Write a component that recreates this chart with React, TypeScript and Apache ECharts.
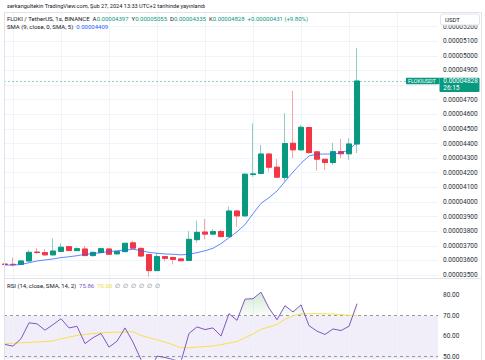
import { useEffect, useRef } from 'react';
import * as echarts from 'echarts';

// Prices are stored in units of 0.00000001 USDT (1e-8)
const PRICE_UNIT = 1e-8;

const opens = [3575, 3573, 3573, 3596, 3657, 3653, 3638, 3662, 3694, 3667, 3678, 3633, 3654, 3678, 3645, 3660, 3720, 3682, 3640, 3530, 3626, 3620, 3610, 3600, 3742, 3794, 3780, 3798, 3763, 3938, 3905, 4188, 4195, 4328, 4238, 4168, 4402, 4357, 4510, 4343, 4292, 4270, 4345, 4330, 4397];
const closes = [3572, 3571, 3596, 3655, 3654, 3638, 3664, 3690, 3668, 3680, 3633, 3655, 3680, 3642, 3660, 3717, 3684, 3630, 3530, 3626, 3614, 3607, 3598, 3744, 3792, 3780, 3797, 3763, 3938, 3905, 4190, 4192, 4328, 4238, 4170, 4400, 4357, 4511, 4338, 4293, 4270, 4344, 4330, 4397, 4828];
const lows = [3557, 3557, 3570, 3594, 3645, 3635, 3632, 3658, 3664, 3664, 3628, 3625, 3648, 3640, 3638, 3656, 3680, 3625, 3488, 3528, 3592, 3573, 3595, 3598, 3720, 3745, 3775, 3758, 3758, 3830, 3900, 4172, 4190, 4208, 4165, 4140, 4300, 4350, 4330, 4214, 4220, 4253, 4300, 4288, 4335];
const highs = [3625, 3620, 3600, 3670, 3683, 3678, 3751, 3717, 3700, 3690, 3699, 3660, 3685, 3684, 3664, 3720, 3735, 3690, 3645, 3650, 3630, 3625, 3616, 3801, 3872, 3883, 3815, 3810, 3968, 3945, 4195, 4538, 4390, 4335, 4294, 4607, 4760, 4527, 4515, 4350, 4295, 4405, 4431, 4437, 5055];
const smaValues = [3568, 3568, 3572, 3584, 3596, 3603, 3610, 3619, 3625, 3632, 3642, 3646, 3653, 3660, 3666, 3671, 3676, 3668, 3655, 3649, 3644, 3642, 3638, 3642, 3653, 3666, 3683, 3715, 3755, 3796, 3845, 3920, 3990, 4030, 4075, 4140, 4205, 4265, 4315, 4327, 4328, 4328, 4336, 4356, 4409];
const rsiValues = [55.9, 55.1, 58.7, 66.5, 66.0, 62.9, 65.6, 68.5, 64.0, 64.8, 56.3, 59.2, 61.3, 54.6, 57.5, 64.0, 57.0, 48.5, 42.0, 50.2, 49.5, 48.5, 47.5, 61.3, 64.5, 63.2, 64.0, 60.0, 71.0, 67.7, 78.1, 78.3, 81.5, 73.7, 68.0, 74.9, 71.8, 75.3, 65.1, 62.4, 60.8, 63.5, 62.7, 64.8, 75.86];
const rsiMaValues = [56.3, 56.5, 56.7, 56.9, 57.1, 57.3, 57.6, 58.7, 59.5, 60.3, 60.8, 61.2, 61.6, 61.8, 61.9, 62.0, 62.1, 60.3, 59.2, 58.2, 57.0, 55.8, 54.3, 54.3, 54.6, 54.9, 55.1, 55.8, 56.6, 57.3, 59.2, 61.0, 63.3, 64.5, 65.7, 68.2, 70.0, 70.8, 70.9, 71.0, 70.9, 70.8, 70.5, 70.2, 70.0];
// candle slots that carry a vertical grid line
const gridSlots = [1, 7, 13, 19, 25, 31, 37, 43, 49];
const rsiBands = [70, 50];

const UP = '#089981';
const DOWN = '#F23645';
const UP_WICK = '#8ccfc2';
const DOWN_WICK = '#f5a3aa';
const FONT = 'Roboto, "Noto Sans", sans-serif';
const TEXT = '#131722';
const BORDER = '#e0e3eb';

const fmt = (v: number) => (v * PRICE_UNIT).toFixed(8);

export default function App() {
  const ref = useRef<HTMLDivElement>(null);
  useEffect(() => {
    const el = ref.current!;
    const chart = echarts.init(el, null, { renderer: 'svg' });
    const n = opens.length;
    const idx = opens.map((_, i) => i);
    const candleData = idx.map((i) => [i, opens[i], closes[i], lows[i], highs[i]]);
    const bodyData = idx.map((i) => [i, opens[i], closes[i], Math.min(opens[i], closes[i]), Math.max(opens[i], closes[i])]);
    const smaData = idx.map((i) => [i, smaValues[i]]);
    const rsiData = idx.map((i) => [i, rsiValues[i]]);
    const rsiMaData = idx.map((i) => [i, rsiMaValues[i]]);
    const vLines = gridSlots.map((v) => ({ xAxis: v }));
    const last = n - 1;
    const rsiMin = 48.64;

    const labelStyle = { fontSize: 6.5, color: '#2a2e39', fontFamily: FONT, margin: 5 };

    chart.setOption({
      animation: false,
      backgroundColor: '#ffffff',
      grid: [
        { left: 4, top: 12.5, width: 434, height: 265.5 },
        { left: 4, top: 278, width: 434, height: 82 },
      ],
      xAxis: [
        { type: 'value', gridIndex: 0, min: -0.125, max: 54.125, show: false },
        { type: 'value', gridIndex: 1, min: -0.125, max: 54.125, show: false },
      ],
      yAxis: [
        {
          type: 'value', gridIndex: 0, position: 'right', min: 3479.5, max: 5297,
          minInterval: 100, maxInterval: 100,
          axisLine: { show: false }, axisTick: { show: false },
          splitLine: { lineStyle: { color: '#f0f3fa', width: 1 } },
          axisLabel: {
            ...labelStyle,
            formatter: (v: number) => (Math.abs(v - closes[last]) < 60 ? '' : fmt(v)),
            showMinLabel: false, showMaxLabel: false,
          },
        },
        {
          type: 'value', gridIndex: 1, position: 'right', min: rsiMin, max: 88.45,
          minInterval: 10, maxInterval: 10,
          axisLine: { show: false }, axisTick: { show: false },
          splitLine: { show: false },
          axisLabel: { ...labelStyle, formatter: (v: number) => v.toFixed(2), showMinLabel: false, showMaxLabel: false },
        },
      ],
      series: [
        {
          type: 'candlestick', xAxisIndex: 0, yAxisIndex: 0, data: candleData, barWidth: 5.6, silent: true,
          itemStyle: { color: UP_WICK, color0: DOWN_WICK, borderColor: UP_WICK, borderColor0: DOWN_WICK, borderWidth: 1 },
          markLine: {
            silent: true, symbol: ['none', 'none'], z: 1, label: { show: false },
            lineStyle: { color: '#f0f3fa', width: 1, type: 'solid' },
            data: vLines,
          },
        },
        {
          type: 'candlestick', xAxisIndex: 0, yAxisIndex: 0, data: bodyData, barWidth: 5.6, silent: true,
          itemStyle: { color: UP, color0: DOWN, borderColor: UP, borderColor0: DOWN, borderWidth: 1 },
          markLine: {
            silent: true, symbol: ['none', 'none'], label: { show: false },
            lineStyle: { color: 'rgba(8,153,129,0.45)', width: 1, type: [2, 2] },
            data: [{ yAxis: closes[last] }],
          },
        },
        {
          type: 'line', xAxisIndex: 0, yAxisIndex: 0, data: smaData, showSymbol: false, silent: true, z: 3,
          lineStyle: { color: '#2962FF', width: 1, opacity: 0.75 },
        },
        {
          type: 'line', xAxisIndex: 1, yAxisIndex: 1, data: rsiMaData, showSymbol: false, silent: true, z: 3,
          lineStyle: { color: '#F7E04F', width: 1 },
          markArea: {
            silent: true,
            itemStyle: { color: 'rgba(126,87,194,0.1)' },
            data: [[{ yAxis: rsiMin }, { yAxis: 70 }]],
          },
          markLine: {
            silent: true, symbol: ['none', 'none'], z: 1, label: { show: false },
            data: [
              ...gridSlots.map((v) => ({ xAxis: v, lineStyle: { color: '#f0f3fa', width: 1, type: 'solid' } })),
              ...rsiBands.map((v) => ({ yAxis: v, lineStyle: { color: '#9598a1', width: 1, type: [3, 3] } })),
            ],
          },
        },
        {
          type: 'line', xAxisIndex: 1, yAxisIndex: 1, data: rsiData, showSymbol: false, silent: true, z: 4,
          lineStyle: { color: '#7E57C2', width: 1 },
          areaStyle: { origin: 70, color: 'rgba(0,0,0,0)' },
        },
      ],
    });

    const py = (chart.convertToPixel({ gridIndex: 0 }, [0, closes[last]]) as number[])[1];
    const y82 = (chart.convertToPixel({ gridIndex: 1 }, [0, 82]) as number[])[1];
    const y70 = (chart.convertToPixel({ gridIndex: 1 }, [0, 70]) as number[])[1];

    const chg = closes[last] - opens[last];
    const pct = ((chg / opens[last]) * 100).toFixed(2);
    const small = `6px ${FONT}`;

    chart.setOption({
      series: [{}, {}, {}, {}, {
        areaStyle: {
          origin: 70,
          color: {
            type: 'linear', x: 0, y: y82, x2: 0, y2: y70, global: true,
            colorStops: [
              { offset: 0, color: 'rgba(76,175,80,0.38)' },
              { offset: 0.97, color: 'rgba(76,175,80,0.06)' },
              { offset: 1, color: 'rgba(76,175,80,0)' },
            ],
          },
        },
      }],
      graphic: [
        { type: 'line', z: 100, silent: true, shape: { x1: 4.5, y1: 12.5, x2: 481.5, y2: 12.5 }, style: { stroke: BORDER, lineWidth: 1 } },
        { type: 'line', z: 100, silent: true, shape: { x1: 4.5, y1: 12.5, x2: 4.5, y2: 360 }, style: { stroke: BORDER, lineWidth: 1 } },
        { type: 'line', z: 100, silent: true, shape: { x1: 481.5, y1: 12.5, x2: 481.5, y2: 360 }, style: { stroke: BORDER, lineWidth: 1 } },
        { type: 'line', z: 100, silent: true, shape: { x1: 4.5, y1: 278.5, x2: 481.5, y2: 278.5 }, style: { stroke: BORDER, lineWidth: 1 } },
        {
          type: 'text', z: 100, silent: true, x: 7, y: 6,
          style: { text: 'serkangultekin TradingView.com, Şub 27, 2024 13:33 UTC+2 tarihinde yayınlandı', font: `5.6px ${FONT}`, fill: TEXT, verticalAlign: 'middle' },
        },
        {
          type: 'text', z: 100, silent: true, x: 7, y: 18.5,
          style: {
            text: `FLOKI / TetherUS, 1s, BINANCE  A{g|${fmt(opens[last])}}  Y{g|${fmt(highs[last])}}  D{g|${fmt(lows[last])}}  K{g|${fmt(closes[last])}}  {g|+${fmt(chg)} (+${pct}%)}`,
            font: small, fill: TEXT, verticalAlign: 'middle',
            rich: { g: { fill: UP, font: small } },
          },
        },
        {
          type: 'text', z: 100, silent: true, x: 7, y: 26.5,
          style: {
            text: `SMA (9, close, 0, SMA, 5)  {b|${fmt(smaValues[last])}}`,
            font: small, fill: TEXT, verticalAlign: 'middle',
            rich: { b: { fill: '#2962FF', font: small } },
          },
        },
        {
          type: 'text', z: 100, silent: true, x: 7, y: 285.7,
          style: {
            text: `RSI (14, close, SMA, 14, 2)  {p|${rsiValues[last].toFixed(2)}}  {y|${rsiMaValues[last].toFixed(2)}}  {n|∅  ∅  ∅  ∅  ∅  ∅}`,
            font: small, fill: TEXT, verticalAlign: 'middle',
            rich: { p: { fill: '#7E57C2', font: small }, y: { fill: '#F2D93B', font: small }, n: { fill: '#787b86', font: small } },
          },
        },
        { type: 'rect', z: 100, silent: true, shape: { x: 440.5, y: 14, width: 39, height: 11, r: 2 }, style: { fill: '#fff', stroke: BORDER, lineWidth: 1 } },
        { type: 'text', z: 101, silent: true, x: 445, y: 19.5, style: { text: 'USDT', font: small, fill: TEXT, verticalAlign: 'middle' } },
        { type: 'rect', z: 100, silent: true, shape: { x: 406, y: py - 3.3, width: 33.5, height: 6.6 }, style: { fill: UP } },
        { type: 'text', z: 101, silent: true, x: 408, y: py, style: { text: 'FLOKIUSDT', font: `5.4px ${FONT}`, fill: '#fff', verticalAlign: 'middle' } },
        { type: 'rect', z: 100, silent: true, shape: { x: 439.5, y: py - 3.3, width: 40, height: 14.3, r: [0, 1, 1, 1] }, style: { fill: UP } },
        { type: 'text', z: 101, silent: true, x: 443.3, y: py, style: { text: fmt(closes[last]), font: `6.5px ${FONT}`, fill: '#fff', verticalAlign: 'middle' } },
        { type: 'text', z: 101, silent: true, x: 443.3, y: py + 6.5, style: { text: '26:15', font: `6.5px ${FONT}`, fill: '#fff', verticalAlign: 'middle' } },
      ],
    });

    return () => chart.dispose();
  }, []);
  return <div ref={ref} style={{ position: 'fixed', left: 0, top: 0, width: 485, height: 360, background: '#fff' }} />;
}
